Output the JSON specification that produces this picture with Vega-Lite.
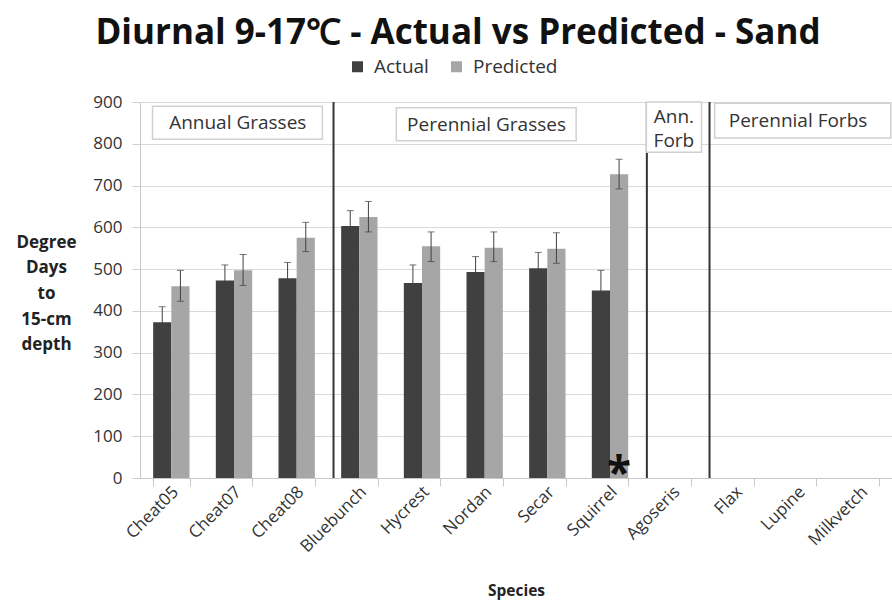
{
  "$schema": "https://vega.github.io/schema/vega-lite/v6.json",
  "width": 752,
  "height": 376,
  "autosize": {"type": "none"},
  "padding": {"left": 140, "top": 102, "right": 0, "bottom": 129},
  "title": {
    "text": "Diurnal 9-17℃ - Actual vs Predicted - Sand",
    "font": "Open Sans",
    "fontSize": 35,
    "fontWeight": "bold",
    "color": "#111111",
    "frame": "group",
    "anchor": "middle",
    "baseline": "alphabetic",
    "offset": -22,
    "dx": -58
  },
  "config": {
    "view": {"stroke": null},
    "font": "Open Sans"
  },
  "datasets": {
    "bars": [
      {"species": "Cheat05", "series": "Actual", "value": 373, "lo": 337, "hi": 410},
      {"species": "Cheat05", "series": "Predicted", "value": 459, "lo": 423, "hi": 497},
      {"species": "Cheat07", "series": "Actual", "value": 473, "lo": 438, "hi": 510},
      {"species": "Cheat07", "series": "Predicted", "value": 497, "lo": 461, "hi": 535},
      {"species": "Cheat08", "series": "Actual", "value": 478, "lo": 446, "hi": 516},
      {"species": "Cheat08", "series": "Predicted", "value": 575, "lo": 542, "hi": 612},
      {"species": "Bluebunch", "series": "Actual", "value": 603, "lo": 567, "hi": 640},
      {"species": "Bluebunch", "series": "Predicted", "value": 625, "lo": 589, "hi": 662},
      {"species": "Hycrest", "series": "Actual", "value": 467, "lo": 427, "hi": 510},
      {"species": "Hycrest", "series": "Predicted", "value": 555, "lo": 518, "hi": 589},
      {"species": "Nordan", "series": "Actual", "value": 493, "lo": 456, "hi": 530},
      {"species": "Nordan", "series": "Predicted", "value": 551, "lo": 518, "hi": 589},
      {"species": "Secar", "series": "Actual", "value": 502, "lo": 470, "hi": 540},
      {"species": "Secar", "series": "Predicted", "value": 549, "lo": 514, "hi": 587},
      {"species": "Squirrel", "series": "Actual", "value": 449, "lo": 399, "hi": 497},
      {"species": "Squirrel", "series": "Predicted", "value": 727, "lo": 692, "hi": 763}
    ],
    "separators": [
      {"species": "Bluebunch"},
      {"species": "Agoseris"},
      {"species": "Flax"}
    ],
    "notes": [
      {"species": "Squirrel", "series": "Predicted", "note": "*", "y": 6}
    ],
    "boxes": [
      {"label": "Annual Grasses", "x0": 0.2, "x1": 2.91, "y0": 811, "y1": 890, "tx": 1.56, "ty": 850},
      {"label": "Perennial Grasses", "x0": 4.09, "x1": 6.96, "y0": 807, "y1": 886, "tx": 5.53, "ty": 846},
      {"label": "Ann.\nForb", "x0": 8.08, "x1": 8.96, "y0": 780, "y1": 900, "tx": 8.52, "ty": 864},
      {"label": "Perennial Forbs", "x0": 9.17, "x1": 11.98, "y0": 814, "y1": 897, "tx": 10.5, "ty": 855}
    ]
  },
  "layer": [
    {
      "encoding": {
        "x": {
          "field": "species",
          "type": "nominal",
          "sort": null,
          "scale": {
            "domain": ["Cheat05", "Cheat07", "Cheat08", "Bluebunch", "Hycrest", "Nordan", "Secar", "Squirrel", "Agoseris", "Flax", "Lupine", "Milkvetch"],
            "paddingInner": 0.42,
            "paddingOuter": 0.21
          },
          "axis": {
            "title": "Species",
            "titleFont": "Open Sans",
            "titleFontSize": 15.5,
            "titleFontWeight": "bold",
            "titleColor": "#222222",
            "titleY": 112,
            "titleBaseline": "middle",
            "labelAngle": -45,
            "labelAlign": "right",
            "labelBaseline": "middle",
            "labelFont": "Open Sans",
            "labelFontSize": 17,
            "labelColor": "#333333",
            "labelPadding": 3,
            "labelOffset": 4,
            "labelOverlap": false,
            "labelBound": false,
            "tickBand": "extent",
            "tickSize": 8,
            "tickColor": "#c8c8c8",
            "domainColor": "#c8c8c8",
            "grid": false
          }
        }
      },
      "layer": [
        {
          "data": {"name": "bars"},
          "mark": {"type": "bar"},
          "encoding": {
            "xOffset": {"field": "series", "type": "nominal", "scale": {"domain": ["Actual", "Predicted"]}},
            "y": {
              "field": "value",
              "type": "quantitative",
              "scale": {"domain": [0, 900], "nice": false},
              "axis": {
                "title": ["Degree", "Days", "to", "15-cm", "depth"],
                "titleAngle": 0,
                "titleAlign": "center",
                "titleBaseline": "middle",
                "titleX": -94,
                "titleY": 140,
                "titleFont": "Open Sans",
                "titleFontSize": 17,
                "titleFontWeight": "bold",
                "titleColor": "#222222",
                "titleLineHeight": 25.7,
                "values": [0, 100, 200, 300, 400, 500, 600, 700, 800, 900],
                "labelFont": "Open Sans",
                "labelFontSize": 17,
                "labelColor": "#333333",
                "labelPadding": 10,
                "tickSize": 8,
                "tickColor": "#d0d0d0",
                "domainColor": "#c8c8c8",
                "gridColor": "#d9d9d9"
              }
            },
            "color": {
              "field": "series",
              "type": "nominal",
              "scale": {"domain": ["Actual", "Predicted"], "range": ["#404040", "#a6a6a6"]},
              "legend": {
                "title": null,
                "orient": "none",
                "legendX": 208,
                "legendY": -45,
                "direction": "horizontal",
                "symbolType": "square",
                "symbolSize": 121,
                "symbolStrokeWidth": 0,
                "labelFont": "Open Sans",
                "labelFontSize": 19,
                "labelColor": "#333333",
                "labelOffset": 7,
                "columnPadding": 18,
                "padding": 0
              }
            }
          }
        },
        {
          "data": {"name": "bars"},
          "mark": {"type": "rule", "color": "#404040", "strokeWidth": 1},
          "encoding": {
            "xOffset": {"field": "series", "type": "nominal", "scale": {"domain": ["Actual", "Predicted"]}},
            "y": {"field": "lo", "type": "quantitative"},
            "y2": {"field": "hi"}
          }
        },
        {
          "data": {"name": "bars"},
          "mark": {"type": "tick", "color": "#404040", "size": 7, "thickness": 1},
          "encoding": {
            "xOffset": {"field": "series", "type": "nominal", "scale": {"domain": ["Actual", "Predicted"]}},
            "y": {"field": "lo", "type": "quantitative"}
          }
        },
        {
          "data": {"name": "bars"},
          "mark": {"type": "tick", "color": "#404040", "size": 7, "thickness": 1},
          "encoding": {
            "xOffset": {"field": "series", "type": "nominal", "scale": {"domain": ["Actual", "Predicted"]}},
            "y": {"field": "hi", "type": "quantitative"}
          }
        },
        {
          "data": {"name": "separators"},
          "mark": {"type": "rule", "color": "#333333", "strokeWidth": 2},
          "encoding": {
            "x": {"field": "species", "type": "nominal", "sort": null, "bandPosition": -0.21}
          }
        },
        {
          "data": {"name": "notes"},
          "mark": {"type": "text", "font": "Open Sans", "fontSize": 44, "fontWeight": "bold", "color": "#111111", "baseline": "middle", "align": "center"},
          "encoding": {
            "xOffset": {"field": "series", "type": "nominal", "scale": {"domain": ["Actual", "Predicted"]}},
            "y": {"field": "y", "type": "quantitative"},
            "text": {"field": "note"}
          }
        }
      ]
    },
    {
      "data": {"name": "boxes"},
      "layer": [
        {
          "mark": {"type": "rect", "fill": "white", "stroke": "#d0d0d0", "strokeWidth": 1.5},
          "encoding": {
            "x": {"field": "x0", "type": "quantitative", "scale": {"domain": [0, 12], "nice": false, "zero": false}, "axis": null},
            "x2": {"field": "x1"},
            "y": {"field": "y0", "type": "quantitative", "axis": null},
            "y2": {"field": "y1"}
          }
        },
        {
          "mark": {"type": "text", "font": "Open Sans", "fontSize": 19, "color": "#333333", "lineBreak": "\n", "lineHeight": 24, "align": "center", "baseline": "middle"},
          "encoding": {
            "x": {"field": "tx", "type": "quantitative", "scale": {"domain": [0, 12], "nice": false, "zero": false}, "axis": null},
            "y": {"field": "ty", "type": "quantitative", "axis": null},
            "text": {"field": "label"}
          }
        }
      ]
    }
  ],
  "resolve": {"scale": {"x": "independent"}, "axis": {"y": "independent"}}
}
